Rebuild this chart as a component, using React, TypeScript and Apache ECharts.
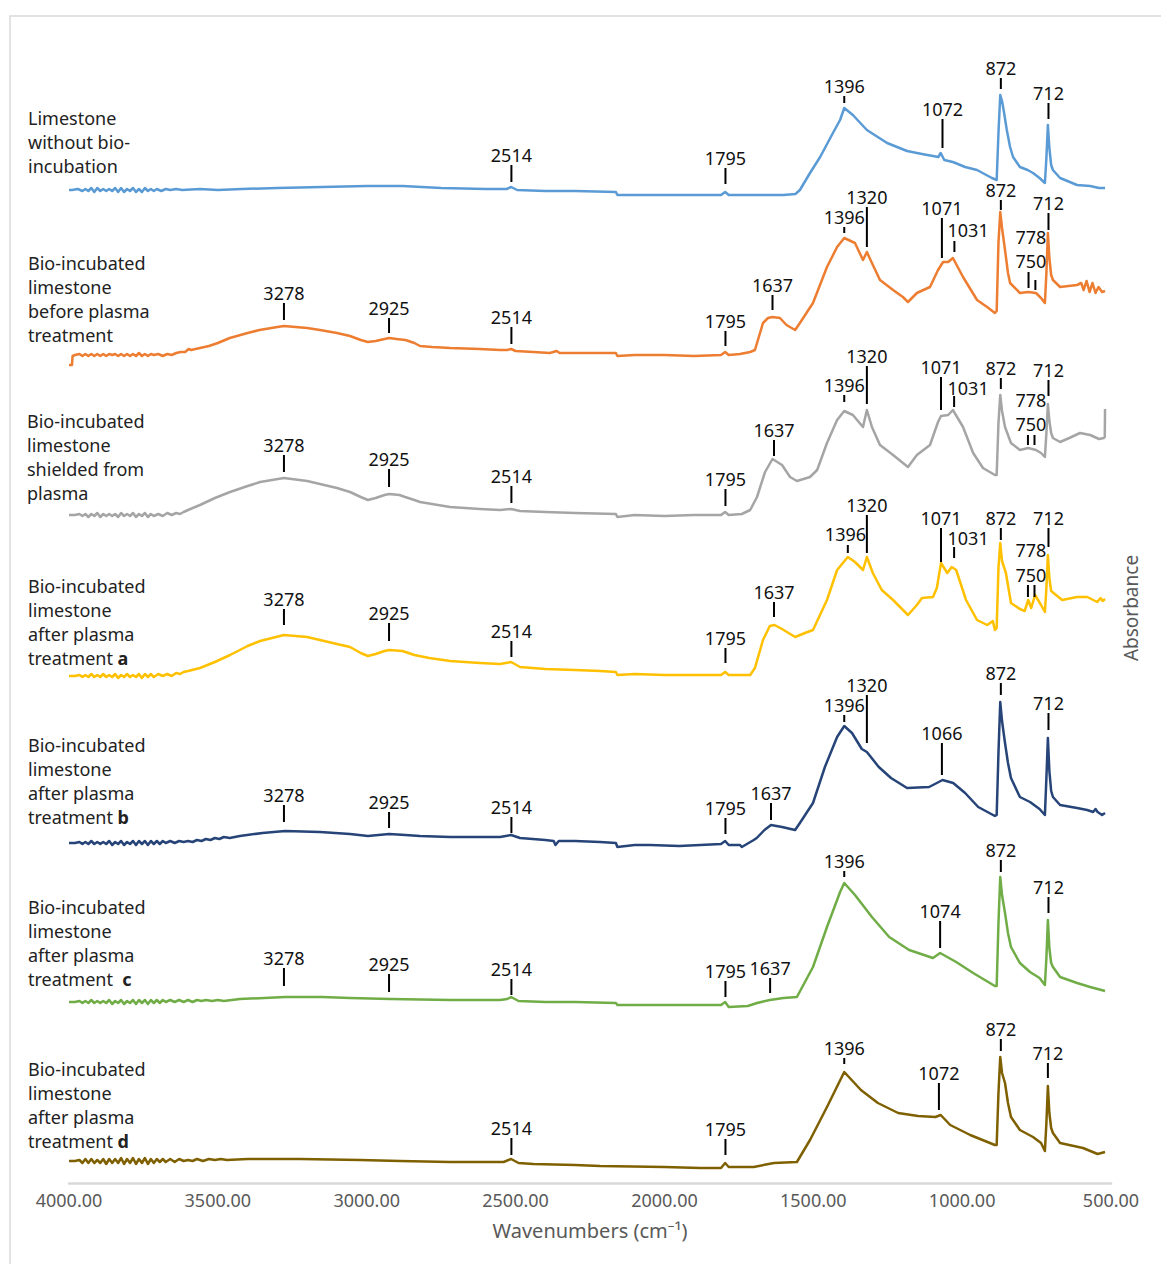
import React, { useEffect, useRef } from "react";
import * as echarts from "echarts";

// ---- Sample names (left labels) ----
const sampleLabels: string[][] = [
  ["Limestone", "without bio-", "incubation"],
  ["Bio-incubated", "limestone", "before plasma", "treatment"],
  ["Bio-incubated", "limestone", "shielded from", "plasma"],
  ["Bio-incubated", "limestone", "after plasma", "treatment {b|a}"],
  ["Bio-incubated", "limestone", "after plasma", "treatment {b|b}"],
  ["Bio-incubated", "limestone", "after plasma", "treatment  {b|c}"],
  ["Bio-incubated", "limestone", "after plasma", "treatment {b|d}"],
];

const COLORS = ["#5B9BD5", "#ED7D31", "#A5A5A5", "#FFC000", "#264478", "#70AD47", "#7F6000"];

// ---- Spectra: [wavenumber cm-1, stacked absorbance] ----
const limestone = [
  [4000,9.93],[3990,9.93],[3970,9.94],[3955,9.92],[3945,9.94],[3935,9.92],[3925,9.95],[3915,9.91],[3905,9.95],[3895,9.92],[3885,9.94],[3875,9.92],[3865,9.94],[3855,9.92],[3845,9.95],[3835,9.91],[3825,9.95],[3815,9.91],[3805,9.94],[3795,9.92],[3785,9.95],[3775,9.91],[3765,9.94],[3755,9.91],[3745,9.95],[3735,9.92],[3725,9.94],[3715,9.92],[3705,9.94],[3690,9.92],[3675,9.94],[3660,9.93],[3640,9.94],[3620,9.93],[3560,9.94],[3500,9.93],[3420,9.94],[3300,9.95],[3150,9.96],[3000,9.97],[2880,9.97],[2750,9.95],[2600,9.94],[2530,9.94],[2515,9.96],[2495,9.93],[2400,9.92],[2300,9.92],[2163,9.91],[2158,9.88],[2000,9.88],[1900,9.88],[1810,9.88],[1796,9.91],[1784,9.88],[1700,9.88],[1600,9.88],[1560,9.89],[1545,9.93],[1511,10.10],[1477,10.26],[1434,10.50],[1410,10.63],[1396,10.75],[1367,10.68],[1320,10.53],[1252,10.40],[1185,10.32],[1135,10.29],[1098,10.27],[1080,10.26],[1072,10.30],[1060,10.23],[1031,10.21],[990,10.16],[950,10.13],[900,10.05],[884,10.03],[878,10.50],[872,10.88],[866,10.82],[859,10.70],[850,10.53],[839,10.36],[829,10.26],[806,10.16],[780,10.13],[762,10.10],[740,10.05],[722,10.00],[717,10.25],[712,10.58],[707,10.35],[701,10.18],[695,10.13],[671,10.05],[614,9.98],[570,9.97],[540,9.95],[520,9.95],
];
const beforePlasma = [
  [4000,8.18],[3990,8.18],[3988,8.27],[3980,8.28],[3965,8.29],[3955,8.27],[3945,8.29],[3935,8.27],[3925,8.29],[3915,8.27],[3905,8.29],[3895,8.27],[3885,8.29],[3875,8.27],[3865,8.29],[3855,8.28],[3845,8.29],[3835,8.27],[3825,8.29],[3815,8.27],[3805,8.29],[3795,8.27],[3785,8.29],[3775,8.27],[3765,8.30],[3755,8.27],[3745,8.29],[3735,8.27],[3725,8.29],[3715,8.28],[3700,8.29],[3685,8.27],[3670,8.29],[3655,8.28],[3640,8.30],[3625,8.31],[3610,8.31],[3598,8.34],[3590,8.33],[3560,8.35],[3530,8.37],[3500,8.40],[3460,8.45],[3400,8.50],[3360,8.53],[3300,8.56],[3278,8.57],[3200,8.55],[3157,8.53],[3100,8.50],[3056,8.47],[3020,8.43],[2996,8.41],[2970,8.42],[2940,8.44],[2925,8.45],[2900,8.44],[2870,8.43],[2840,8.40],[2821,8.37],[2780,8.36],[2720,8.35],[2620,8.34],[2552,8.33],[2528,8.33],[2515,8.34],[2500,8.32],[2440,8.31],[2385,8.30],[2362,8.32],[2352,8.30],[2300,8.30],[2200,8.30],[2163,8.30],[2158,8.27],[2100,8.28],[2000,8.28],[1900,8.27],[1810,8.28],[1796,8.31],[1784,8.28],[1746,8.29],[1712,8.31],[1696,8.33],[1669,8.60],[1652,8.65],[1637,8.66],[1612,8.65],[1590,8.58],[1561,8.53],[1545,8.60],[1501,8.80],[1454,9.16],[1420,9.36],[1396,9.45],[1360,9.40],[1333,9.23],[1320,9.31],[1303,9.20],[1276,9.03],[1232,8.93],[1199,8.86],[1182,8.81],[1152,8.90],[1108,8.96],[1081,9.13],[1064,9.21],[1047,9.21],[1031,9.25],[997,9.06],[950,8.83],[916,8.76],[890,8.70],[884,8.72],[878,9.40],[872,9.71],[866,9.55],[856,9.33],[846,9.10],[839,9.00],[806,8.90],[778,8.91],[752,8.90],[735,8.85],[722,8.80],[717,9.10],[712,9.50],[707,9.25],[701,9.08],[695,9.03],[671,8.96],[614,8.98],[600,9.00],[592,8.93],[582,9.02],[572,8.91],[562,9.00],[552,8.90],[542,8.96],[530,8.91],[520,8.92],
];
const shielded = [
  [4000,6.68],[3980,6.68],[3965,6.69],[3955,6.67],[3945,6.69],[3935,6.66],[3925,6.69],[3915,6.67],[3905,6.70],[3895,6.66],[3885,6.69],[3875,6.67],[3865,6.69],[3855,6.67],[3845,6.69],[3835,6.66],[3825,6.70],[3815,6.67],[3805,6.69],[3795,6.67],[3785,6.70],[3775,6.66],[3765,6.69],[3755,6.67],[3745,6.70],[3735,6.66],[3725,6.69],[3715,6.67],[3700,6.69],[3685,6.67],[3670,6.70],[3655,6.68],[3640,6.70],[3627,6.69],[3615,6.71],[3600,6.73],[3560,6.78],[3510,6.85],[3459,6.91],[3400,6.97],[3358,7.01],[3278,7.05],[3200,7.02],[3157,6.99],[3100,6.95],[3056,6.91],[3020,6.86],[2996,6.83],[2970,6.85],[2940,6.88],[2925,6.89],[2890,6.88],[2871,6.86],[2840,6.83],[2821,6.81],[2720,6.76],[2620,6.74],[2552,6.73],[2515,6.74],[2485,6.72],[2400,6.71],[2300,6.70],[2163,6.69],[2158,6.66],[2100,6.68],[2000,6.67],[1900,6.68],[1810,6.68],[1796,6.71],[1784,6.68],[1740,6.69],[1712,6.73],[1689,6.86],[1662,7.11],[1637,7.24],[1605,7.18],[1578,7.06],[1555,7.02],[1511,7.06],[1487,7.13],[1454,7.40],[1420,7.63],[1396,7.72],[1367,7.68],[1333,7.56],[1320,7.73],[1303,7.56],[1276,7.38],[1232,7.28],[1182,7.16],[1152,7.28],[1108,7.38],[1081,7.61],[1071,7.67],[1047,7.68],[1031,7.73],[997,7.56],[963,7.30],[930,7.15],[890,7.08],[884,7.08],[878,7.60],[872,7.88],[866,7.72],[856,7.56],[836,7.40],[806,7.33],[778,7.35],[765,7.34],[752,7.33],[735,7.30],[722,7.26],[717,7.50],[712,7.79],[707,7.62],[701,7.50],[695,7.45],[671,7.41],[640,7.45],[604,7.50],[570,7.48],[540,7.44],[524,7.45],[521,7.46],[520,7.74],
];
const afterA = [
  [4000,5.07],[3980,5.07],[3965,5.08],[3955,5.06],[3945,5.08],[3935,5.06],[3925,5.09],[3915,5.06],[3905,5.08],[3895,5.06],[3885,5.09],[3875,5.06],[3865,5.08],[3855,5.06],[3845,5.09],[3835,5.05],[3825,5.08],[3815,5.06],[3805,5.09],[3795,5.06],[3785,5.08],[3775,5.06],[3765,5.09],[3755,5.05],[3745,5.09],[3735,5.06],[3725,5.09],[3715,5.06],[3700,5.09],[3685,5.07],[3670,5.09],[3655,5.07],[3640,5.10],[3627,5.09],[3615,5.11],[3600,5.12],[3560,5.15],[3510,5.21],[3459,5.28],[3400,5.37],[3358,5.42],[3278,5.48],[3200,5.46],[3157,5.43],[3100,5.39],[3056,5.36],[3020,5.30],[2996,5.27],[2970,5.29],[2940,5.32],[2925,5.33],[2880,5.32],[2840,5.28],[2790,5.25],[2720,5.22],[2620,5.20],[2552,5.19],[2515,5.21],[2485,5.16],[2400,5.14],[2300,5.13],[2216,5.12],[2163,5.11],[2158,5.08],[2100,5.09],[2000,5.08],[1880,5.08],[1810,5.08],[1796,5.11],[1784,5.08],[1712,5.08],[1696,5.15],[1669,5.43],[1646,5.57],[1630,5.58],[1605,5.54],[1561,5.46],[1528,5.50],[1501,5.53],[1454,5.83],[1420,6.13],[1384,6.26],[1360,6.21],[1333,6.13],[1320,6.26],[1300,6.10],[1270,5.93],[1232,5.83],[1182,5.68],[1152,5.78],[1135,5.85],[1098,5.86],[1085,5.95],[1071,6.20],[1050,6.10],[1035,6.16],[1020,6.13],[987,5.83],[950,5.63],[916,5.58],[906,5.60],[897,5.62],[890,5.53],[884,5.55],[878,6.15],[872,6.40],[866,6.22],[853,6.10],[836,5.80],[806,5.74],[790,5.72],[778,5.83],[768,5.75],[755,5.88],[735,5.78],[722,5.71],[717,5.95],[712,6.28],[707,6.05],[701,5.92],[693,5.90],[664,5.83],[614,5.86],[580,5.86],[546,5.81],[535,5.85],[528,5.82],[520,5.84],
];
const afterB = [
  [4000,3.40],[3980,3.40],[3965,3.41],[3955,3.39],[3945,3.41],[3935,3.39],[3925,3.42],[3915,3.39],[3905,3.41],[3895,3.39],[3885,3.41],[3875,3.39],[3865,3.42],[3855,3.38],[3845,3.41],[3835,3.39],[3825,3.42],[3815,3.38],[3805,3.41],[3795,3.39],[3785,3.42],[3775,3.38],[3765,3.42],[3755,3.39],[3745,3.42],[3735,3.38],[3725,3.42],[3715,3.39],[3705,3.42],[3695,3.39],[3685,3.42],[3675,3.40],[3660,3.42],[3645,3.40],[3630,3.42],[3615,3.41],[3600,3.42],[3585,3.41],[3570,3.43],[3555,3.42],[3540,3.44],[3525,3.43],[3510,3.45],[3495,3.44],[3480,3.46],[3460,3.45],[3426,3.47],[3350,3.50],[3274,3.52],[3157,3.51],[3056,3.49],[2996,3.47],[2925,3.49],[2870,3.48],[2821,3.47],[2720,3.46],[2552,3.46],[2515,3.48],[2485,3.45],[2400,3.43],[2372,3.42],[2366,3.38],[2355,3.42],[2300,3.42],[2216,3.41],[2163,3.40],[2158,3.36],[2100,3.38],[2048,3.38],[1950,3.37],[1880,3.38],[1810,3.39],[1796,3.42],[1784,3.38],[1746,3.38],[1740,3.36],[1700,3.43],[1690,3.45],[1664,3.53],[1642,3.58],[1605,3.56],[1561,3.53],[1545,3.60],[1501,3.80],[1461,4.16],[1420,4.46],[1396,4.57],[1370,4.50],[1337,4.34],[1320,4.31],[1280,4.16],[1239,4.05],[1185,3.95],[1111,3.96],[1085,4.00],[1066,4.03],[1030,4.00],[990,3.90],[946,3.76],[890,3.67],[884,3.68],[878,4.30],[872,4.81],[866,4.62],[856,4.40],[846,4.20],[836,4.05],[806,3.86],[772,3.81],[740,3.74],[722,3.68],[717,4.05],[712,4.45],[707,4.12],[701,3.92],[695,3.86],[671,3.78],[614,3.75],[580,3.73],[560,3.71],[552,3.74],[545,3.71],[530,3.68],[520,3.70],
];
const afterC = [
  [4000,1.81],[3980,1.81],[3965,1.82],[3955,1.80],[3945,1.82],[3935,1.80],[3925,1.83],[3915,1.80],[3905,1.82],[3895,1.80],[3885,1.82],[3875,1.80],[3865,1.83],[3855,1.79],[3845,1.82],[3835,1.80],[3825,1.83],[3815,1.79],[3805,1.82],[3795,1.80],[3785,1.83],[3775,1.79],[3765,1.83],[3755,1.80],[3745,1.83],[3735,1.79],[3725,1.83],[3715,1.80],[3705,1.83],[3695,1.80],[3685,1.83],[3675,1.81],[3660,1.83],[3645,1.81],[3630,1.83],[3615,1.81],[3600,1.83],[3585,1.81],[3570,1.83],[3555,1.82],[3540,1.83],[3520,1.82],[3500,1.83],[3480,1.82],[3426,1.84],[3274,1.86],[3150,1.86],[3056,1.85],[2920,1.84],[2720,1.83],[2552,1.83],[2528,1.84],[2515,1.86],[2490,1.82],[2400,1.81],[2300,1.81],[2163,1.80],[2158,1.78],[2048,1.78],[1880,1.78],[1810,1.78],[1796,1.81],[1784,1.76],[1720,1.77],[1689,1.80],[1646,1.83],[1600,1.85],[1555,1.86],[1501,2.16],[1454,2.56],[1410,2.91],[1396,3.00],[1360,2.88],[1303,2.66],[1245,2.46],[1178,2.33],[1098,2.25],[1074,2.30],[1050,2.26],[1020,2.21],[963,2.10],[890,1.97],[884,1.97],[878,2.60],[872,3.06],[866,2.88],[856,2.70],[846,2.50],[836,2.36],[806,2.20],[772,2.11],[740,2.05],[722,1.98],[717,2.25],[712,2.63],[707,2.35],[701,2.20],[695,2.16],[671,2.06],[614,2.00],[570,1.96],[545,1.94],[520,1.92],
];
const afterD = [
  [4000,0.22],[3980,0.22],[3965,0.23],[3955,0.20],[3945,0.24],[3935,0.20],[3925,0.24],[3915,0.20],[3905,0.23],[3895,0.20],[3885,0.24],[3875,0.19],[3865,0.24],[3855,0.20],[3845,0.24],[3835,0.20],[3825,0.25],[3815,0.19],[3805,0.24],[3795,0.20],[3785,0.25],[3775,0.19],[3765,0.24],[3755,0.20],[3745,0.25],[3735,0.19],[3725,0.24],[3715,0.20],[3705,0.24],[3695,0.21],[3685,0.24],[3675,0.21],[3660,0.24],[3645,0.21],[3630,0.24],[3615,0.22],[3600,0.23],[3585,0.22],[3570,0.24],[3550,0.22],[3530,0.24],[3510,0.23],[3490,0.24],[3470,0.23],[3400,0.24],[3224,0.24],[3022,0.23],[2888,0.22],[2720,0.21],[2540,0.21],[2515,0.24],[2490,0.20],[2440,0.19],[2300,0.18],[2216,0.17],[2000,0.16],[1880,0.15],[1810,0.15],[1796,0.20],[1784,0.16],[1700,0.16],[1650,0.19],[1632,0.20],[1555,0.21],[1511,0.43],[1454,0.76],[1396,1.11],[1340,0.93],[1283,0.80],[1215,0.70],[1148,0.67],[1090,0.66],[1072,0.68],[1040,0.58],[973,0.48],[890,0.38],[884,0.38],[878,0.90],[872,1.26],[866,1.10],[856,1.00],[846,0.80],[836,0.66],[806,0.53],[762,0.46],[735,0.40],[722,0.32],[717,0.60],[712,0.97],[707,0.70],[701,0.55],[695,0.50],[671,0.40],[594,0.35],[545,0.29],[520,0.31],
];

// ---- Peak annotations: [tick wn, tick bottom, tick top, label, (label wn, label centre)] ----
const annLimestone: any[] = [[2514,10.01,10.18,"2514"],[1795,9.99,10.15,"1795"],[1396,10.80,10.87,"1396"],[1066,10.35,10.64,"1072"],[870,10.94,11.05,"872"],[710,10.64,10.80,"712"]];
const annBefore: any[] = [[3278,8.63,8.80,"3278"],[2925,8.50,8.65,"2925"],[2514,8.39,8.56,"2514"],[1795,8.37,8.52,"1795"],[1637,8.73,8.88,"1637"],[1396,9.50,9.56,"1396"],[1320,9.36,9.76,"1320"],[1068,9.25,9.65,"1071"],[1026,9.31,9.42,"1031",980,9.53],[870,9.73,9.83,"872"],[710,9.53,9.70,"712"],[777,8.95,9.11,"778",769,9.46],[754,8.93,9.03,"750",769,9.22]];
const annShielded: any[] = [[3278,7.11,7.28,"3278"],[2925,6.96,7.14,"2925"],[2514,6.80,6.97,"2514"],[1795,6.77,6.94,"1795"],[1632,7.27,7.43,"1637"],[1396,7.81,7.88,"1396"],[1320,7.79,8.17,"1320"],[1071,7.73,8.06,"1071"],[1027,7.76,7.87,"1031",980,7.95],[870,7.94,8.05,"872"],[710,7.87,8.03,"712"],[779,7.38,7.48,"778",769,7.83],[757,7.38,7.48,"750",769,7.59]];
const annAfterA: any[] = [[3278,5.58,5.74,"3278"],[2925,5.42,5.60,"2925"],[2514,5.26,5.42,"2514"],[1795,5.20,5.35,"1795"],[1632,5.66,5.81,"1637"],[1384,6.30,6.38,"1396",1392,6.49],[1320,6.30,6.68,"1320"],[1071,6.21,6.55,"1071"],[1027,6.25,6.36,"1031",980,6.45],[870,6.43,6.55,"872"],[710,6.36,6.55,"712"],[779,5.86,5.98,"778",769,6.33],[757,5.86,5.98,"750",769,6.08]];
const annAfterB: any[] = [[3278,3.61,3.78,"3278"],[2925,3.55,3.71,"2925"],[2514,3.50,3.66,"2514"],[1795,3.49,3.65,"1795"],[1642,3.63,3.80,"1637"],[1396,4.61,4.68,"1396"],[1320,4.40,4.88,"1320"],[1068,4.08,4.40,"1066"],[870,4.88,5.00,"872"],[710,4.53,4.70,"712"]];
const annAfterC: any[] = [[3278,1.97,2.15,"3278"],[2925,1.91,2.09,"2925"],[2514,1.88,2.04,"2514"],[1795,1.86,2.02,"1795"],[1645,1.90,2.05,"1637"],[1396,3.06,3.12,"1396"],[1074,2.35,2.62,"1074"],[870,3.11,3.23,"872"],[710,2.70,2.86,"712"]];
const annAfterD: any[] = [[2514,0.28,0.45,"2514"],[1795,0.28,0.44,"1795"],[1396,1.19,1.25,"1396"],[1078,0.73,1.00,"1072"],[870,1.32,1.44,"872"],[712,1.05,1.20,"712"]];

const spectra = [limestone, beforePlasma, shielded, afterA, afterB, afterC, afterD];
const annotations = [annLimestone, annBefore, annShielded, annAfterA, annAfterB, annAfterC, annAfterD];

const FONT_FAMILY = "Noto Sans";

export default function App() {
  const ref = useRef<HTMLDivElement>(null);
  useEffect(() => {
    const el = ref.current;
    if (!el) return;
    const chart = echarts.init(el, null, { renderer: "svg" });
    const allAnn: any[] = ([] as any[]).concat(...annotations);
    const labelTops = [106, 251, 409, 574, 733, 895, 1057];

    const graphics: any[] = [
      {
        type: "rect",
        silent: true,
        z: -10,
        shape: { x: 10, y: 16, width: 1180, height: 1280 },
        style: { fill: "none", stroke: "#D9D9D9", lineWidth: 1.5 },
      },
    ];
    sampleLabels.forEach((lines, i) => {
      graphics.push({
        type: "text",
        silent: true,
        x: i === 2 ? 27 : 28,
        y: labelTops[i],
        style: {
          text: lines.join("\n"),
          fontSize: 18,
          fontFamily: FONT_FAMILY,
          fill: "#222222",
          lineHeight: 24,
          verticalAlign: "top",
          align: "left",
          rich: {
            b: { fontSize: 18, fontFamily: FONT_FAMILY, fontWeight: "bold", fill: "#222222", lineHeight: 24 },
          },
        },
      });
    });

    const series: any[] = spectra.map((d, i) => ({
      type: "line",
      data: d,
      showSymbol: false,
      symbol: "none",
      silent: true,
      z: 3,
      lineStyle: { color: COLORS[i], width: 2.5, join: "round" },
      itemStyle: { color: COLORS[i] },
    }));

    series.push({
      type: "custom",
      silent: true,
      clip: false,
      z: 5,
      encode: { x: 0, y: 1 },
      data: allAnn.map((a) => [a[0], a[1], a[2]]),
      renderItem: (params: any, api: any) => {
        const a = allAnn[params.dataIndex];
        const p1 = api.coord([a[0], a[1]]);
        const p2 = api.coord([a[0], a[2]]);
        const custom = a.length > 4;
        const tp = custom ? api.coord([a[4], a[5]]) : [p2[0], p2[1] - 1];
        return {
          type: "group",
          children: [
            {
              type: "line",
              shape: { x1: p1[0], y1: p1[1], x2: p2[0], y2: p2[1] },
              style: { stroke: "#000000", lineWidth: 2 },
            },
            {
              type: "text",
              x: tp[0],
              y: tp[1],
              style: {
                text: a[3],
                align: "center",
                verticalAlign: custom ? "middle" : "bottom",
                fontSize: 18,
                fontFamily: FONT_FAMILY,
                fill: "#111111",
              },
            },
          ],
        };
      },
    });

    chart.setOption({
      animation: false,
      backgroundColor: "#ffffff",
      grid: { left: 69, right: 50, top: 33, bottom: 81 },
      xAxis: {
        type: "value",
        min: 500,
        max: 4000,
        interval: 500,
        inverse: true,
        axisLine: { show: true, lineStyle: { color: "#D9D9D9", width: 2.5 } },
        axisTick: { show: false },
        splitLine: { show: false },
        axisLabel: {
          formatter: (v: number) => v.toFixed(2),
          color: "#595959",
          fontSize: 18,
          fontFamily: FONT_FAMILY,
          margin: 8,
        },
        name: "Wavenumbers (cm⁻¹)",
        nameLocation: "middle",
        nameGap: 37,
        nameTextStyle: { color: "#595959", fontSize: 20, fontFamily: FONT_FAMILY },
      },
      yAxis: {
        type: "value",
        min: 0,
        max: 11.5,
        position: "right",
        axisLine: { show: false },
        axisTick: { show: false },
        axisLabel: { show: false },
        splitLine: { show: false },
        name: "Absorbance",
        nameLocation: "middle",
        nameRotate: 90,
        nameGap: 10,
        nameTextStyle: { color: "#595959", fontSize: 19, fontFamily: FONT_FAMILY },
      },
      graphic: graphics,
      series,
    });
    return () => chart.dispose();
  }, []);
  return (
    <div
      ref={ref}
      style={{ position: "absolute", left: 0, top: 0, width: 1161, height: 1264, background: "#ffffff" }}
    />
  );
}
